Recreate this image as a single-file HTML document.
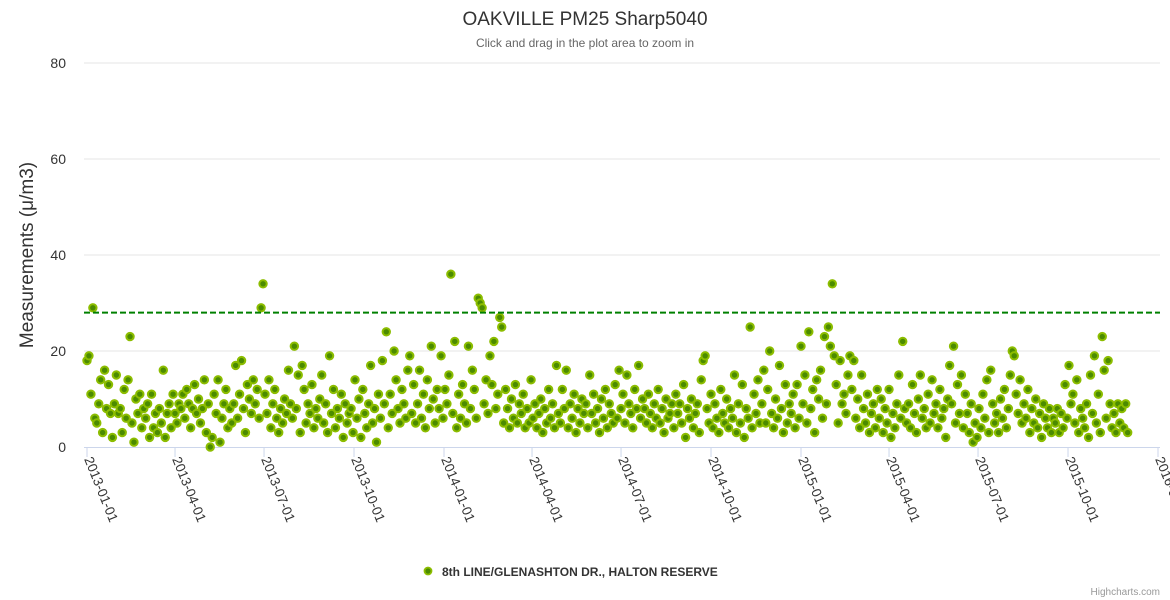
<!DOCTYPE html>
<html><head><meta charset="utf-8"><style>
html,body{margin:0;padding:0;background:#fff;}
svg{display:block;font-family:"Liberation Sans",sans-serif;}
</style></head><body>
<svg id="chart" width="1170" height="600" xmlns="http://www.w3.org/2000/svg">
<text x="585" y="25" text-anchor="middle" font-size="19" fill="#333">OAKVILLE PM25 Sharp5040</text>
<text x="585" y="47" text-anchor="middle" font-size="12" fill="#666">Click and drag in the plot area to zoom in</text>
<text transform="translate(33,255) rotate(-90)" text-anchor="middle" font-size="19" fill="#333">Measurements (μ/m3)</text>
<g id="grid"></g>
<g id="yticks"></g>
<g id="xaxis"></g>
<g id="plot"></g>
<g>
<circle cx="428" cy="571" r="3.5" fill="#4b8b00" stroke="#8cbd00" stroke-width="1.8"/>
<text x="442" y="576" font-size="12" font-weight="bold" fill="#333">8th LINE/GLENASHTON DR., HALTON RESERVE</text>
</g>
<text x="1160" y="595" text-anchor="end" font-size="10" fill="#999">Highcharts.com</text>
</svg>
<script>
const yTicks=[0,20,40,60,80];
const xTickLabels=["2013-01-01","2013-04-01","2013-07-01","2013-10-01","2014-01-01","2014-04-01","2014-07-01","2014-10-01","2015-01-01","2015-04-01","2015-07-01","2015-10-01","2016-01-01"];
const xTickDays=[0,90,181,273,365,455,546,638,730,820,911,1003,1095];
const threshold=28;
const stepDays=2;
const values=[
18,19,11,29,6,5,9,14,3,16,8,13,7,2,9,
15,7,8,3,12,6,14,23,5,1,10,7,11,4,8,
6,9,2,11,4,7,3,8,5,16,2,7,9,4,11,
7,5,9,8,11,6,12,9,4,8,13,7,10,5,8,
14,3,9,0,2,11,7,14,1,6,9,12,4,8,5,
9,17,6,11,18,8,3,13,10,7,14,9,12,6,29,
34,11,7,14,4,9,12,6,3,8,5,10,7,16,9,
6,21,8,15,3,17,12,5,9,7,13,4,8,6,10,
15,5,9,3,19,7,12,4,8,6,11,2,9,5,7,
8,3,14,6,10,2,12,7,4,9,17,5,8,1,11,
6,18,9,24,4,11,7,20,14,8,5,12,9,6,16,
19,7,13,5,9,16,6,11,4,14,8,21,10,5,12,
8,19,6,12,9,15,36,7,22,4,11,6,13,9,5,
21,8,16,12,6,31,30,29,9,14,7,19,13,22,8,
11,27,25,5,12,8,4,10,6,13,5,9,7,11,4,
8,5,14,6,9,4,7,10,3,8,5,12,6,9,4,
17,7,5,12,8,16,4,9,6,11,3,8,5,10,7,
9,4,15,7,11,5,8,3,10,6,12,4,9,7,5,
13,6,16,8,11,5,15,9,7,4,12,8,17,6,10,
8,5,11,7,4,9,6,12,5,8,3,10,6,7,9,
4,11,7,9,5,13,2,8,6,10,4,7,9,3,14,
18,19,8,5,11,4,9,6,3,12,7,5,10,4,8,
6,15,3,9,5,13,2,8,6,25,4,11,7,14,5,
9,16,5,12,20,7,4,10,6,17,8,3,13,5,9,
7,11,4,13,6,21,9,15,5,24,8,12,3,14,10,
16,6,23,9,25,21,34,19,13,5,18,9,11,7,15,
19,12,18,6,10,4,15,8,5,11,3,7,9,4,12,
6,10,3,8,5,12,2,7,4,9,15,6,22,8,5,
9,4,13,7,3,10,15,6,8,4,11,5,14,7,9,
4,12,6,8,2,10,17,9,21,5,13,7,15,4,11,
7,3,9,1,5,2,8,4,11,6,14,3,16,9,5,
7,3,10,6,12,4,8,15,20,19,11,7,14,5,9,
6,12,3,8,5,10,4,7,2,9,6,4,8,3,6,
5,8,3,7,4,13,6,17,9,11,5,14,3,8,6,
4,9,2,15,7,19,5,11,3,23,16,6,18,9,4,
7,3,9,5,8,4,9,3
];
const NS="http://www.w3.org/2000/svg";
const X0=87,X1=1158,Y0=447,Y1=63,plotL=84,plotR=1160;
function xs(d){return X0+(X1-X0)*d/1095;}
function ys(v){return Y0-(Y0-Y1)*v/80;}
function mk(t,a,p){const e=document.createElementNS(NS,t);for(const k in a)e.setAttribute(k,a[k]);p.appendChild(e);return e;}
const grid=document.getElementById('grid'),yt=document.getElementById('yticks'),xa=document.getElementById('xaxis'),plot=document.getElementById('plot');
yTicks.forEach(v=>{
 if(v>0){const g=mk('line',{x1:plotL,x2:plotR,y1:ys(v),y2:ys(v),stroke:'#e6e6e6','stroke-width':1},grid);
 
 }
 const t=mk('text',{x:66,y:ys(v)+5,'text-anchor':'end','font-size':14,fill:'#333'},yt);t.textContent=v;
 
 
});
const ax=mk('line',{x1:plotL,x2:plotR,y1:Y0+0.5,y2:Y0+0.5,stroke:'#ccd6eb','stroke-width':1},xa);


xTickDays.forEach((d,i)=>{
 const x=xs(d);
 const tk=mk('line',{x1:x,x2:x,y1:Y0,y2:Y0+10,stroke:'#ccd6eb','stroke-width':1},xa);
 
 
 const t=mk('text',{transform:`translate(${x-3},${Y0+12}) rotate(68)`,'font-size':13.5,fill:'#333'},xa);
 t.textContent=xTickLabels[i];
 
 
});
values.forEach((v,i)=>{
 const c=mk('circle',{cx:xs(i*stepDays),cy:ys(v),r:3.7,fill:'#4b8b00',stroke:'#8cbd00','stroke-width':2},plot);
 
 
});
const th=mk('line',{x1:plotL,x2:plotR,y1:ys(threshold),y2:ys(threshold),stroke:'#008000','stroke-width':2,'stroke-dasharray':'6,3'},plot);


</script>
</body></html>
